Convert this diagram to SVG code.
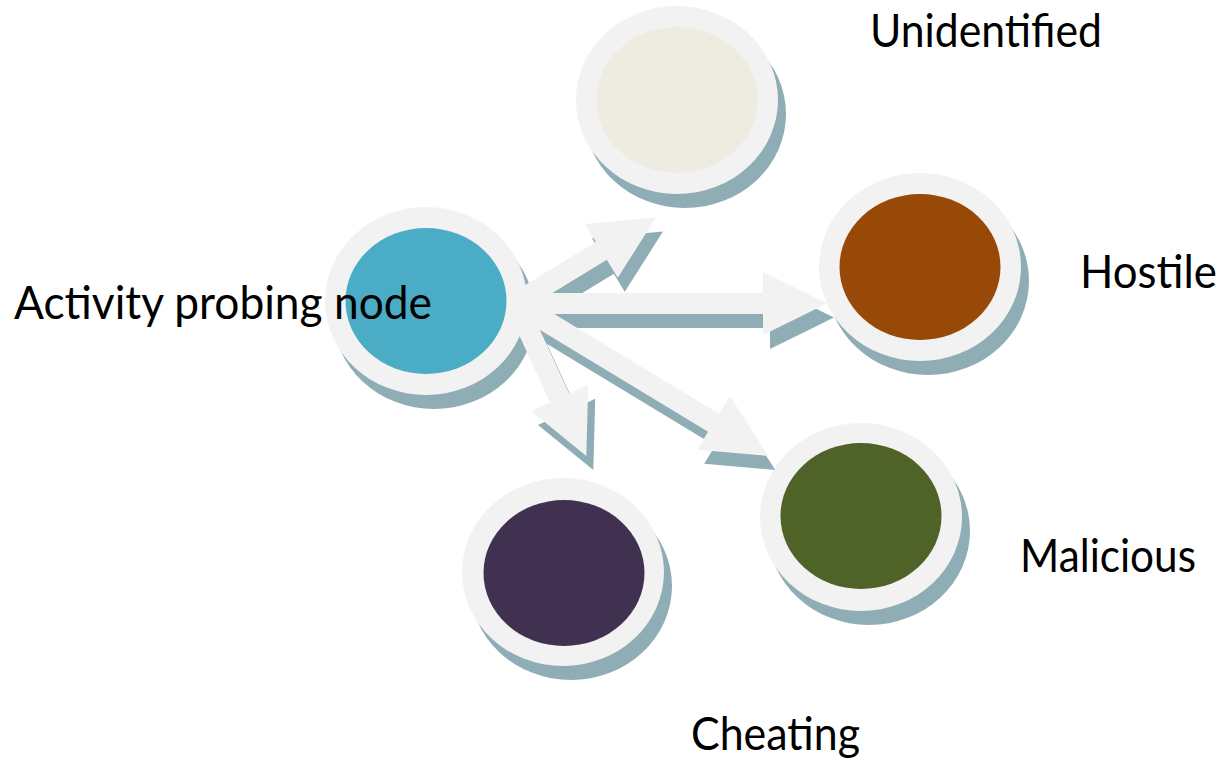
<svg xmlns="http://www.w3.org/2000/svg" width="1223" height="762" viewBox="0 0 1223 762">
<style>
.sh{fill:#8EADB5}
.ring{fill:#F2F2F2}
.ash{fill:#8EADB5}
.arr{fill:#F2F2F2}
.lbl{font-family:Lato,"Open Sans","Liberation Sans",sans-serif;font-size:46px;fill:#000}
</style>
<rect width="1223" height="762" fill="#fff"/>
<g id="node-activity">
<ellipse class="sh" cx="434" cy="315" rx="101" ry="94"/>
<ellipse class="ring" cx="426" cy="301" rx="101" ry="94"/>
<ellipse cx="426" cy="301" rx="80.5" ry="73" fill="#4BACC6"/>
</g>
<g id="node-unidentified">
<ellipse class="sh" cx="685" cy="114" rx="101" ry="94"/>
<ellipse class="ring" cx="677" cy="100" rx="101" ry="94"/>
<ellipse cx="677" cy="100" rx="80.5" ry="73" fill="#EEECE1"/>
</g>
<g id="node-hostile">
<ellipse class="sh" cx="928" cy="281" rx="101" ry="94"/>
<ellipse class="ring" cx="920" cy="267" rx="101" ry="94"/>
<ellipse cx="920" cy="267" rx="80.5" ry="73" fill="#984807"/>
</g>
<g id="node-malicious">
<ellipse class="sh" cx="869" cy="531" rx="101" ry="94"/>
<ellipse class="ring" cx="861" cy="517" rx="101" ry="94"/>
<ellipse cx="861" cy="516" rx="80.5" ry="73" fill="#4F6228"/>
</g>
<g id="node-cheating">
<ellipse class="sh" cx="571" cy="586" rx="101" ry="94"/>
<ellipse class="ring" cx="563" cy="572" rx="101" ry="94"/>
<ellipse cx="564" cy="573" rx="80.5" ry="73" fill="#403151"/>
</g>
<g id="connectors">
<g transform="translate(7,14)">
<polygon class="ash" transform="translate(516,303) rotate(-31.41)" points="8,-10.5 100,-10.5 100,-31.5 164,0 100,31.5 100,10.5 8,10.5"/>
<polygon class="ash" transform="translate(516,303.5)" points="8,-10.5 247,-10.5 247,-31.5 311,0 247,31.5 247,10.5 8,10.5"/>
<polygon class="ash" transform="translate(516,303) rotate(31.23)" points="8,-10.5 231,-10.5 231,-31.5 295,0 231,31.5 231,10.5 8,10.5"/>
<polygon class="ash" transform="translate(516,303) rotate(65.32)" points="8,-10.5 104.4,-10.5 104.4,-31.5 168.4,0 104.4,31.5 104.4,10.5 8,10.5"/>
</g>
<polygon class="arr" transform="translate(516,303) rotate(-31.41)" points="8,-10.5 100,-10.5 100,-31.5 164,0 100,31.5 100,10.5 8,10.5"/>
<polygon class="arr" transform="translate(516,303.5)" points="8,-10.5 247,-10.5 247,-31.5 311,0 247,31.5 247,10.5 8,10.5"/>
<polygon class="arr" transform="translate(516,303) rotate(31.23)" points="8,-10.5 231,-10.5 231,-31.5 295,0 231,31.5 231,10.5 8,10.5"/>
<polygon class="arr" transform="translate(516,303) rotate(65.32)" points="8,-10.5 104.4,-10.5 104.4,-31.5 168.4,0 104.4,31.5 104.4,10.5 8,10.5"/>
</g>
<text class="lbl" x="14" y="319" textLength="418" lengthAdjust="spacingAndGlyphs">Activity probing node</text>
<text class="lbl" x="870" y="47" textLength="232" lengthAdjust="spacingAndGlyphs">Unidentified</text>
<text class="lbl" x="1080" y="288" textLength="137" lengthAdjust="spacingAndGlyphs">Hostile</text>
<text class="lbl" x="1020" y="572" textLength="176" lengthAdjust="spacingAndGlyphs">Malicious</text>
<text class="lbl" x="691" y="750" textLength="169" lengthAdjust="spacingAndGlyphs">Cheating</text>
</svg>
